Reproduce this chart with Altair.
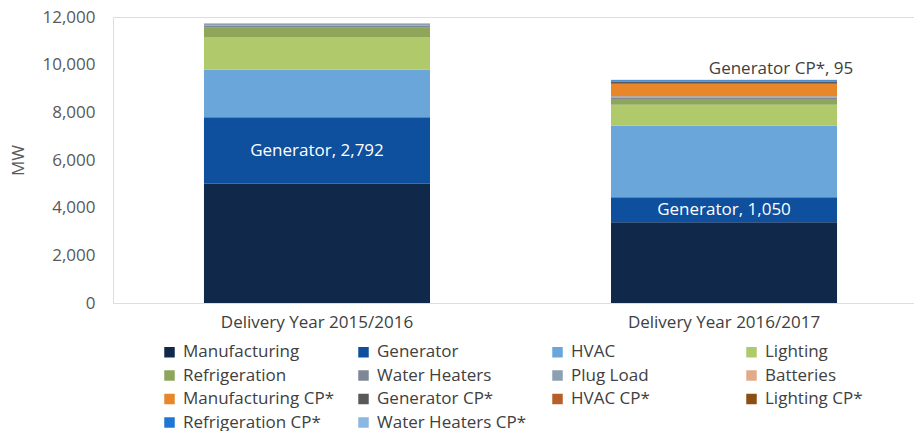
import altair as alt
import pandas as pd

years = ["Delivery Year 2015/2016", "Delivery Year 2016/2017"]
categories = [
    "Manufacturing", "Generator", "HVAC", "Lighting",
    "Refrigeration", "Water Heaters", "Plug Load", "Batteries",
    "Manufacturing CP*", "Generator CP*", "HVAC CP*", "Lighting CP*",
    "Refrigeration CP*", "Water Heaters CP*",
]
colors = [
    "#10294a", "#0e4f9e", "#6aa6d9", "#afc96b",
    "#8ea65a", "#7d8796", "#8d9fb3", "#e2aa8a",
    "#e8862a", "#595959", "#b5602a", "#8a4f12",
    "#1f77d4", "#8ab8e0",
]
mw_2015 = [5000, 2792, 1990, 1380, 390, 90, 70, 35, 0, 0, 0, 0, 0, 0]
mw_2016 = [3390, 1050, 3000, 880, 240, 60, 50, 5, 520, 95, 20, 10, 35, 10]

rows = []
for yr, vals in zip(years, [mw_2015, mw_2016]):
    for i, (c, v) in enumerate(zip(categories, vals)):
        rows.append({"year": yr, "category": c, "mw": v, "order": i})
df = pd.DataFrame(rows)

# label positions derived from the data
lab_rows = []
for yr, vals in zip(years, [mw_2015, mw_2016]):
    gi = categories.index("Generator")
    mid = sum(vals[:gi]) + vals[gi] / 2
    lab_rows.append({"year": yr, "y": mid, "text": f"Generator, {vals[gi]:,}"})
lab_df = pd.DataFrame(lab_rows)

gci = categories.index("Generator CP*")
top_df = pd.DataFrame([{"year": years[1], "y": sum(mw_2016),
                        "text": f"Generator CP*, {mw_2016[gci]}"}])

FONT = "Open Sans"
FS = 17

xscale = alt.Scale(domain=years, range=[0, 815], paddingInner=0.4447, paddingOuter=0.2235)
yscale = alt.Scale(domain=[0, 12000])

bars = alt.Chart(df).mark_bar().encode(
    x=alt.X("year:N", scale=xscale, sort=years,
            axis=alt.Axis(title=None, labelAngle=0, ticks=False, domain=False,
                          labelPadding=11, labelFontSize=FS, labelColor="#404040",
                          labelFont=FONT, labelLimit=400)),
    y=alt.Y("mw:Q", stack="zero", scale=yscale,
            axis=alt.Axis(title="MW", values=list(range(0, 12001, 2000)), format=",.0f",
                          grid=False, ticks=False, domain=False, labelPadding=18,
                          labelFontSize=FS, labelColor="#595959", labelFont=FONT,
                          titleFont=FONT, titleFontSize=FS, titleFontWeight="normal",
                          titleColor="#595959", titlePadding=14)),
    color=alt.Color("category:N", scale=alt.Scale(domain=categories, range=colors),
                    sort=categories,
                    legend=alt.Legend(title=None, orient="none", legendX=48, legendY=326.5,
                                      direction="horizontal",
                                      columns=4, gridAlign="all", columnPadding=21,
                                      rowPadding=5.5, symbolType="square", symbolSize=110,
                                      symbolStrokeWidth=0, labelFontSize=FS,
                                      labelColor="#404040", labelFont=FONT,
                                      labelOffset=5, padding=0, labelLimit=300)),
    order=alt.Order("order:Q", sort="ascending"),
)

labels = alt.Chart(lab_df).mark_text(color="white", fontSize=FS, font=FONT).encode(
    x=alt.X("year:N", scale=xscale, sort=years),
    y=alt.Y("y:Q", scale=yscale),
    text="text:N",
)

top_label = alt.Chart(top_df).mark_text(color="#404040", fontSize=FS, font=FONT,
                                        dx=57, dy=-11).encode(
    x=alt.X("year:N", scale=xscale, sort=years),
    y=alt.Y("y:Q", scale=yscale),
    text="text:N",
)

chart = alt.layer(bars, labels, top_label).properties(
    width=801, height=286,
    padding={"left": 105, "top": 9, "right": 0, "bottom": 128},
    autosize=alt.AutoSizeParams(type="none"),
).configure_view(fill="#f2f2f2", stroke=None).configure(background="white")

chart.save("out.html", embed_options={"renderer": "svg", "actions": False})
